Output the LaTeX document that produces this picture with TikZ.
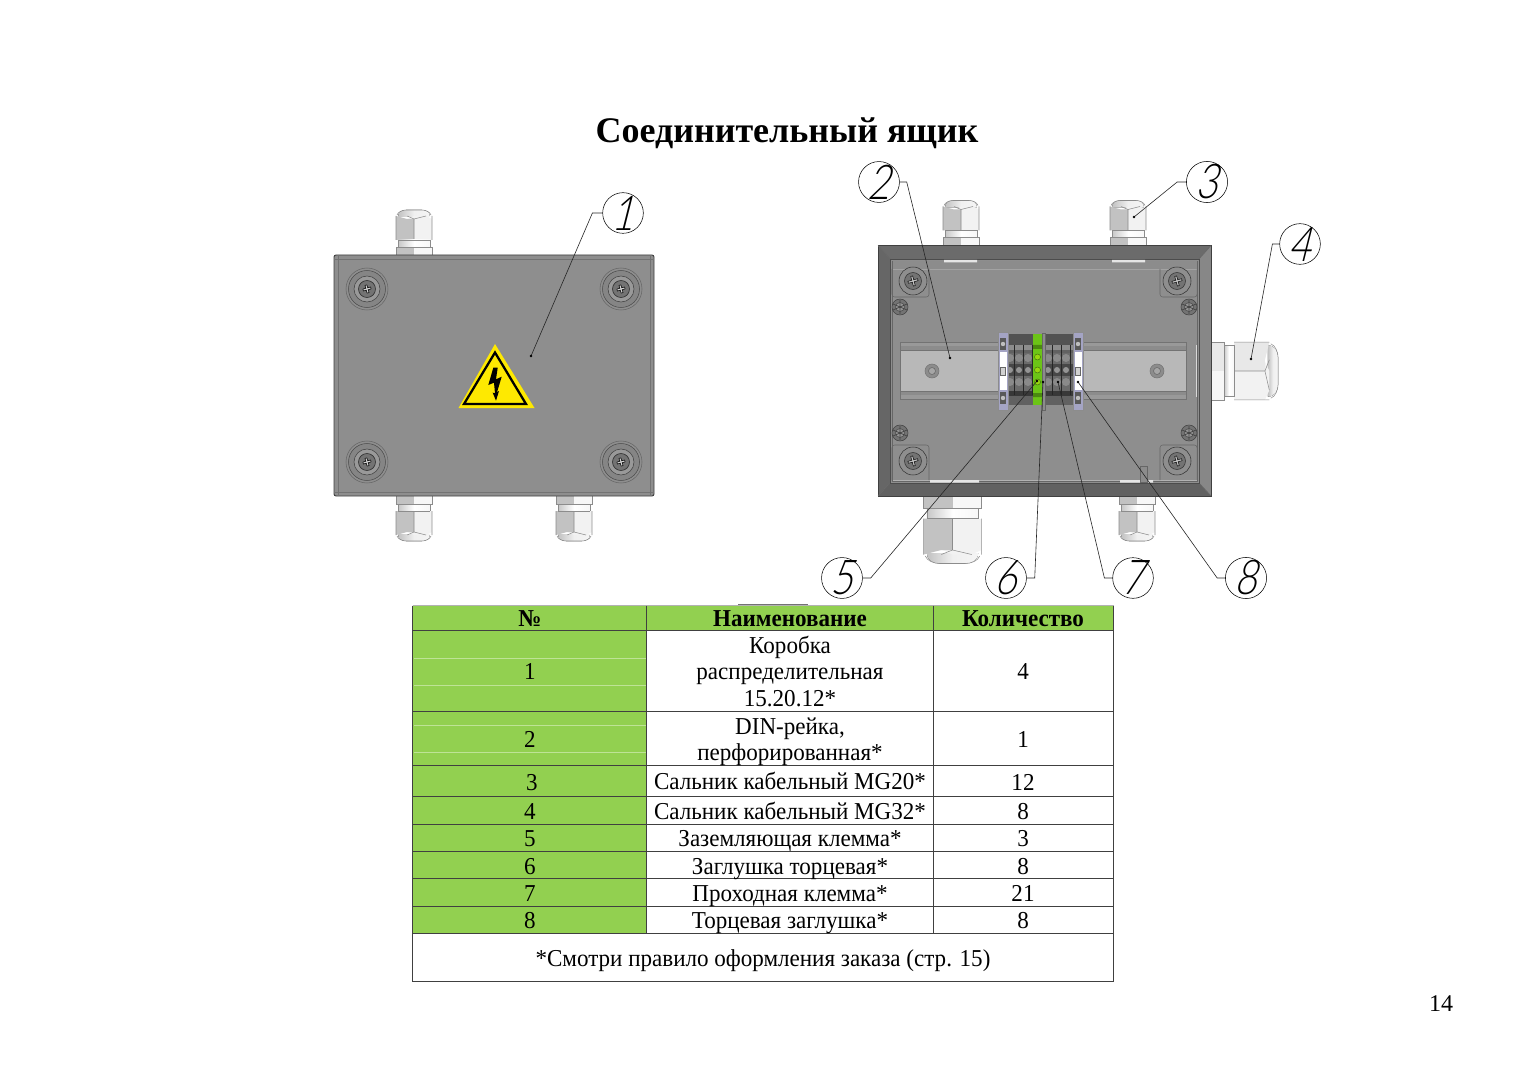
\documentclass[tikz,border=0pt]{standalone}
\usepackage{fontspec}
\setmainfont{Liberation Serif}
\newfontfamily\tblfont[FakeStretch=0.95]{Liberation Serif}
\newfontfamily\callfont[FakeSlant=0.25,FakeStretch=0.8]{Lato Light}
\definecolor{tgreen}{HTML}{92D050}
\definecolor{lid}{HTML}{8E8E8E}
\definecolor{clampgreen}{HTML}{6CC417}
\definecolor{stopblue}{HTML}{A4A4C4}
\tikzset{
  callout/.style={circle,draw=black,line width=0.4pt,fill=white,minimum size=30.5pt,inner sep=0pt,font=\callfont\fontsize{36}{36}\selectfont},
  leader/.style={draw=black!85,line width=0.45pt},
  leaderdot/.style={circle,fill=black,inner sep=0pt,minimum size=2pt},
  tline/.style={draw=black!75,line width=0.7pt},
  cell/.style={inner sep=0pt,text height=13pt,text depth=0.7pt,font=\tblfont\fontsize{18.2}{18.2}\selectfont,anchor=center},
  head/.style={inner sep=0pt,text height=13pt,text depth=0.7pt,font=\tblfont\bfseries\fontsize{18.2}{18.2}\selectfont,anchor=center},
  glandline/.style={draw=black!45,line width=0.4pt},
}
% gland pointing up from its base at the origin: width 36, height 45
% #3 = placement options, #4 = colour of the hex nut's first half
\newcommand{\gland}[4]{%
\begin{scope}[shift={(#1,#2)},#3]
  \fill[left color=black!24,right color=black!4,middle color=black!6] (-16,-38) .. controls (-16,-43) and (-12,-45) .. (-8,-45) -- (8,-45) .. controls (12,-45) and (16,-43) .. (16,-38) -- cycle;
  \draw[glandline] (-17,-40) .. controls (-16,-43) and (-12,-45) .. (-8,-45) -- (8,-45) .. controls (12,-45) and (16,-43) .. (17,-40);
  \fill[black!5] (0,-15) rectangle (18,-36);
  \fill[black!5] (-6,-36) -- (0,-39) -- (12,-39) -- (18,-36) -- cycle;
  \fill[#4] (-18,-15) -- (-18,-39) -- (-7,-36) -- (0,-36) -- (0,-15) -- cycle;
  \draw[glandline] (-18,-15) -- (-18,-39) (18,-15) -- (18,-39) (0,-15) -- (0,-36) -- (-7,-39) (0,-36) -- (12,-39);
  \shade[left color=black!22,right color=black!3,middle color=white] (-16,-8) rectangle (16,-15);
  \draw[glandline] (-16,-15) -- (16,-15) (-16,-8) -- (-16,-15) (16,-8) -- (16,-15);
  \fill[#4] (-18,0) rectangle (0,-8);
  \fill[black!3] (0,0) rectangle (18,-8);
  \draw[glandline] (-18,0) -- (-18,-8) -- (18,-8) -- (18,0);
\end{scope}}
% large screw of the lid
\newcommand{\lidscrew}[2]{%
\begin{scope}[shift={(#1,#2)}]
  \draw[black!60,line width=.4pt,fill=lid] (0,0) circle (21);
  \draw[black!70,line width=.4pt,fill=black!48] (0,0) circle (18.5);
  \draw[black!75,line width=.4pt,fill=black!40] (0,0) circle (13);
  \draw[black!80,line width=.5pt,fill=black!55] (0,0) circle (8.5);
  \fill[black!18,rotate=15] (-4,-1) -- (-1,-1) -- (-1,-4) -- (1,-4) -- (1,-1) -- (4,-1) -- (4,1) -- (1,1) -- (1,4) -- (-1,4) -- (-1,1) -- (-4,1) -- cycle;
  \draw[black,line width=.4pt,rotate=15] (-4,-1) -- (-1,-1) -- (-1,-4) -- (1,-4) -- (1,-1) -- (4,-1) -- (4,1) -- (1,1) -- (1,4) -- (-1,4) -- (-1,1) -- (-4,1) -- cycle;
\end{scope}}
% screw in the open box
\newcommand{\boxscrew}[2]{%
\begin{scope}[shift={(#1,#2)}]
  \draw[black!80,line width=.4pt,fill=lid] (0,0) circle (14);
  \draw[black!80,line width=.4pt,fill=black!55] (0,0) circle (8.5);
  \fill[black!25,rotate=15] (-5,-1) -- (-1,-1) -- (-1,-5) -- (1,-5) -- (1,-1) -- (5,-1) -- (5,1) -- (1,1) -- (1,5) -- (-1,5) -- (-1,1) -- (-5,1) -- cycle;
  \draw[black,line width=.35pt,rotate=15] (-5,-1) -- (-1,-1) -- (-1,-5) -- (1,-5) -- (1,-1) -- (5,-1) -- (5,1) -- (1,1) -- (1,5) -- (-1,5) -- (-1,1) -- (-5,1) -- cycle;
\end{scope}}
\newcommand{\smallnut}[2]{%
\begin{scope}[shift={(#1,#2)}]
  \draw[black!75,line width=.4pt,fill=black!55] (0,0) circle (8);
  \draw[black!70,line width=.4pt,fill=black!42] (0,0) circle (4.5);
  \draw[black!75,line width=.5pt] (-7,-3) -- (7,3) (-7,3) -- (7,-3) (0,-7) -- (0,7);
\end{scope}}
\newcommand{\railstop}[1]{%
\begin{scope}[shift={(#1,0)}]
  \fill[stopblue,draw=black!45,line width=.3pt] (0,332) rectangle (10,410);
  \fill[black!65] (2,338) rectangle (8,350);
  \fill[black!65] (2,392) rectangle (8,404);
  \fill[white] (2,352) rectangle (8.5,390);
  \fill[black!18] (2.5,367) rectangle (7.5,375);
  \draw[black!60,line width=.3pt] (2.5,367) rectangle (7.5,375);
  \fill[black!25] (5,344) circle (2.2) (5,398) circle (2.2);
\end{scope}}
\begin{document}
\begin{tikzpicture}[x=0.75pt,y=-0.75pt]
\useasboundingbox (0,0) rectangle (1527,1080);
\fill[white] (0,0) rectangle (1527,1080);
\node[inner sep=0pt,text height=18pt,text depth=0pt,font=\bfseries\fontsize{27}{27}\selectfont] (title) at (787,131) {Соединительный ящик};

% ---------- closed box ----------
\gland{414}{255}{}{black!24}
\gland{414}{496}{yscale=-1}{black!24}
\gland{574}{496}{yscale=-1}{black!24}
\draw[black!75,line width=.7pt,fill=lid,rounded corners=1.5pt] (334,255) rectangle (654,496);
\draw[black!55,line width=.4pt] (338,255) -- (338,496) (650,255) -- (650,496) (334,259.5) -- (654,259.5) (334,492) -- (654,492);
\lidscrew{367}{289}\lidscrew{621}{289}\lidscrew{367}{462}\lidscrew{621}{462}
\fill[yellow!92!orange] (495,344) -- (534.5,408) -- (458.5,408) -- cycle;
\draw[black,line width=1.7pt,line join=miter] (495,352.5) -- (526,404) -- (464,404) -- cycle;
\fill[black] (493.3,367.7) -- (488.3,385) -- (494,382.7) -- (495,393.3) -- (492.7,392.7) -- (496,400.7) -- (499,391) -- (497,392.3) -- (501.7,376.7) -- (496,379.3) -- (497.7,367.7) -- cycle;

% ---------- open box ----------
\gland{961}{245.5}{}{black!24}
\gland{1128}{245.5}{}{black!24}
\gland{1137}{496}{yscale=-1}{black!24}
\gland{952.5}{496}{xscale=1.6,yscale=-1.5}{black!24}
\gland{1212}{371}{rotate=-90,xscale=1.6,yscale=1.47}{black!9}
\fill[black!58] (878,245.5) -- (1211,245.5) -- (1199,259) -- (890,259) -- cycle;
\fill[black!60] (878,245.5) -- (890,259) -- (890,483) -- (878,496) -- cycle;
\fill[black!47] (1211,245.5) -- (1199,259) -- (1199,483) -- (1211,496) -- cycle;
\fill[black!62] (878,496) -- (890,483) -- (1199,483) -- (1211,496) -- cycle;
\draw[black!75,line width=.7pt] (878,245.5) rectangle (1211,496);
\fill[lid] (890,259) rectangle (1199,483);
\draw[black!60,line width=.5pt] (878,245.5) -- (890,259) (1211,245.5) -- (1199,259) (878,496) -- (890,483) (1211,496) -- (1199,483);
\draw[black!70,line width=.7pt] (890,259) rectangle (1199,483);
\fill[black!45] (892,261) rectangle (1197,269);
\fill[black!36] (892,269) rectangle (1197,270);
\fill[black!30] (892,480) rectangle (1197,482);
\draw[black!60,line width=.4pt] (892,261) -- (892,481) -- (1197,481) -- (1197,261);
\fill[black!10] (944,260) rectangle (977,262.5) (1112,260) rectangle (1145,262.5) (930,480) rectangle (979,482.5) (1120,480) rectangle (1153,482.5);
% corners
\draw[black!60,line width=.4pt,rounded corners=2pt] (892,269) -- (892,297) -- (929,297) -- (929,269);
\draw[black!60,line width=.4pt,rounded corners=2pt] (1197,269) -- (1197,297) -- (1160,297) -- (1160,269);
\draw[black!60,line width=.4pt,rounded corners=2pt] (892,480) -- (892,445) -- (929,445) -- (929,480);
\draw[black!60,line width=.4pt,rounded corners=2pt] (1197,480) -- (1197,445) -- (1160,445) -- (1160,480);
\boxscrew{913}{281}\boxscrew{1177}{281}\boxscrew{913}{461}\boxscrew{1177}{461}
\smallnut{900}{307}\smallnut{1189}{307}\smallnut{900}{433}\smallnut{1189}{433}
\fill[black!45,draw=black!60,line width=.3pt] (1140,466) rectangle (1147,482);
\fill[black!15] (1195.5,345) rectangle (1197,397);
% DIN rail
\fill[black!40] (900,342) rectangle (1186,399);
\fill[black!28] (900,350) rectangle (1186,391);
\fill[black!45] (900,346) rectangle (1186,350);
\fill[black!45] (900,391) rectangle (1186,395);
\draw[black!55,line width=.4pt] (900,342) rectangle (1186,399) (900,350) -- (1186,350) (900,391) -- (1186,391);
\foreach \x in {932,1157}{\draw[black!55,line width=.4pt,fill=black!45] (\x,371) circle (7); \draw[black!60,line width=.4pt,fill=black!35] (\x,371) circle (3.5);}
% terminals
\fill[black!58] (1008,334) rectangle (1073,405);
\fill[black!68] (1008,334) rectangle (1073,345);
\fill[black!45] (1008,345) rectangle (1073,350);
\fill[black!62] (1008,350) rectangle (1073,353);
\fill[black!72] (1008,364) rectangle (1073,376);
\fill[black!78] (1008,391) rectangle (1073,396);
\fill[black!62] (1008,396) rectangle (1073,405);
\foreach \x in {1010,1019,1028,1048,1057,1066}{
  \fill[black!46] (\x,358) circle (4) (\x,382) circle (4);
  \fill[black!42] (\x,370) circle (3);
  \draw[black!85,line width=.3pt] (\x+4.5,345) -- (\x+4.5,395);
}
\fill[clampgreen] (1033,334) rectangle (1042,405);
\fill[clampgreen!70!black] (1033,345) rectangle (1042,349) (1033,393) rectangle (1042,397);
\foreach \y in {357,370,382}{\draw[clampgreen!50!black,line width=.3pt,fill=clampgreen!70!yellow] (1037.5,\y) circle (3);}
\fill[black!45,draw=black!60,line width=.3pt] (1042,333) rectangle (1045,410);
\railstop{998}\railstop{1073}

% ---------- callouts ----------
\coordinate (d1) at (531,356);
\coordinate (d2) at (950,358);
\coordinate (d3) at (1134,217);
\coordinate (d4) at (1251,359);
\coordinate (d5) at (1037,381);
\coordinate (d6) at (1043,382);
\coordinate (d7) at (1058,382);
\coordinate (d8) at (1078,382);
\node[callout] (c1) at (623,213) {1};
\node[callout] (c2) at (879,182) {2};
\node[callout] (c3) at (1207,182) {3};
\node[callout] (c4) at (1300,244) {4};
\node[callout] (c5) at (842,578) {5};
\node[callout] (c6) at (1006,578) {6};
\node[callout] (c7) at (1133,578) {7};
\node[callout] (c8) at (1246,578) {8};
\draw[leader] (c1.west) -- ++(-10,0) -- (d1);
\draw[leader] (c2.east) -- ++(7,0) -- (d2);
\draw[leader] (c3.west) -- ++(-9,0) -- (d3);
\draw[leader] (c4.west) -- ++(-7,0) -- (d4);
\draw[leader] (c5.east) -- ++(8,0) -- (d5);
\draw[leader] (c6.east) -- ++(8,0) -- (d6);
\draw[leader] (c7.west) -- ++(-8,0) -- (d7);
\draw[leader] (c8.west) -- ++(-8,0) -- (d8);
\foreach \d in {d1,d2,d3,d4,d5,d6,d7,d8}{\node[leaderdot] at (\d) {};}

% ---------- table ----------
\fill[black!55] (738,603.5) rectangle (808,606);
\fill[tgreen] (412.5,605.5) rectangle (646.5,933.5);
\fill[tgreen] (646.5,605.5) rectangle (1113.5,630.5);
\foreach \y in {658,685,725,752}{\draw[white!40!tgreen,line width=.25pt] (414,\y) -- (646,\y);}
\draw[black!30,line width=.7pt] (412.5,605.5) -- (1113.5,605.5);
\draw[tline] (412.5,605.5) -- (412.5,981.5) -- (1113.5,981.5) -- (1113.5,605.5);
\foreach \y in {630.5,711.5,765.5,796.5,824.5,851.5,878.5,906.5,933.5}{\draw[tline] (412.5,\y) -- (1113.5,\y);}
\draw[tline] (646.5,605.5) -- (646.5,933.5) (933.5,605.5) -- (933.5,933.5);
\node[head] (h1) at (530,618) {№};
\node[head] (h2) at (790,618.5) {Наименование};
\node[head] (h3) at (1023,618.5) {Количество};
\node[cell] (n1) at (530,671.5) {1};
\node[cell] (n2) at (530,739) {2};
\node[cell] (n3) at (532,782) {3};
\node[cell] (n4) at (530,811) {4};
\node[cell] (n5) at (530,838.5) {5};
\node[cell] (n6) at (530,866) {6};
\node[cell] (n7) at (530,893.5) {7};
\node[cell] (n8) at (530,920.5) {8};
\node[cell] (a1a) at (790,645.5) {Коробка};
\node[cell] (a1b) at (790,671.5) {распределительная};
\node[cell] (a1c) at (790,698) {15.20.12*};
\node[cell] (a2a) at (790,726) {DIN-рейка,};
\node[cell] (a2b) at (790,752) {перфорированная*};
\node[cell] (a3) at (790,781.5) {Сальник кабельный MG20*};
\node[cell] (a4) at (790,811) {Сальник кабельный MG32*};
\node[cell] (a5) at (790,838.5) {Заземляющая клемма*};
\node[cell] (a6) at (790,866) {Заглушка торцевая*};
\node[cell] (a7) at (790,893.5) {Проходная клемма*};
\node[cell] (a8) at (790,920.5) {Торцевая заглушка*};
\node[cell] (q1) at (1023,671.5) {4};
\node[cell] (q2) at (1023,739) {1};
\node[cell] (q3) at (1023,782) {12};
\node[cell] (q4) at (1023,811) {8};
\node[cell] (q5) at (1023,838.5) {3};
\node[cell] (q6) at (1023,866) {8};
\node[cell] (q7) at (1023,893.5) {21};
\node[cell] (q8) at (1023,920.5) {8};
\node[cell] (foot) at (763,958.5) {*Смотри правило оформления заказа (стр. 15)};
\node[inner sep=0pt,text height=12.2pt,text depth=0pt,font=\fontsize{18}{18}\selectfont] (page) at (1441,1003.5) {14};
\end{tikzpicture}
\end{document}
